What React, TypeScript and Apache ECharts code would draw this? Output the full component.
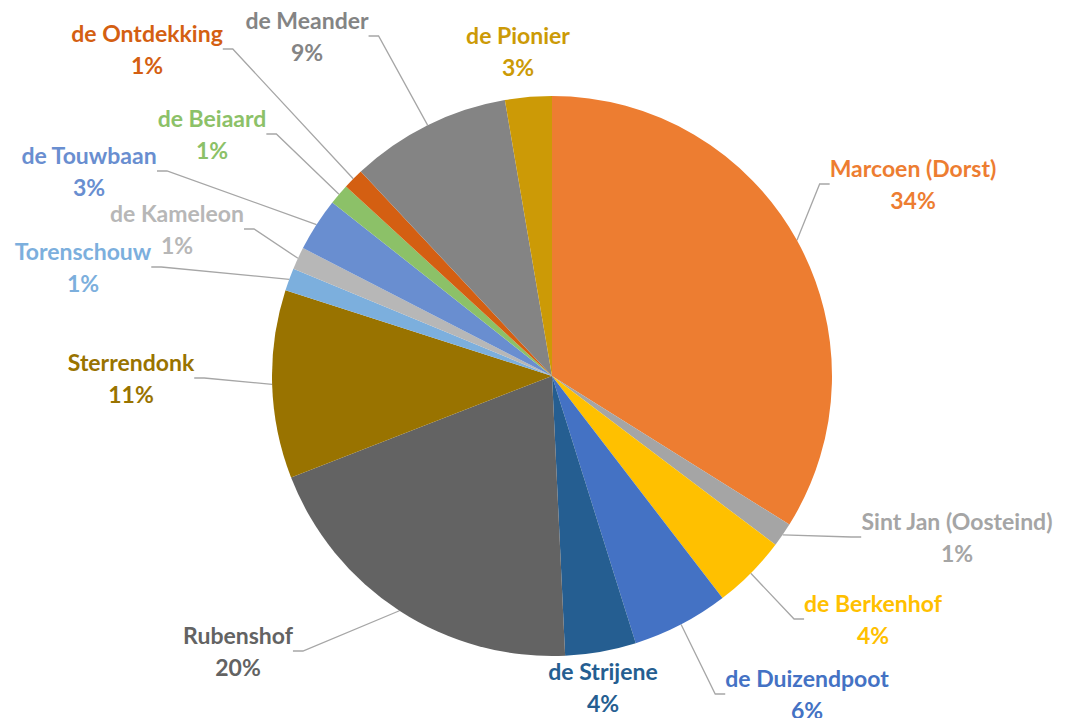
import React, { useEffect, useRef } from 'react';
import * as echarts from 'echarts';

const categories = [
  'Marcoen (Dorst)',
  'Sint Jan (Oosteind)',
  'de Berkenhof',
  'de Duizendpoot',
  'de Strijene',
  'Rubenshof',
  'Sterrendonk',
  'Torenschouw',
  'de Kameleon',
  'de Touwbaan',
  'de Beiaard',
  'de Ontdekking',
  'de Meander',
  'de Pionier',
];

const values = [34, 1.4, 4.3, 5.6, 4.1, 19.9, 10.9, 1.3, 1.3, 3.1, 1.2, 1.2, 9.3, 2.7];

const colors = [
  '#ED7D31',
  '#A5A5A5',
  '#FFC000',
  '#4472C4',
  '#255E91',
  '#636363',
  '#997300',
  '#7CAFDD',
  '#B7B7B7',
  '#698ED0',
  '#8CC168',
  '#D45F12',
  '#848484',
  '#CC9A06',
];

// label block centres (layout only)
const labelCenters: number[][] = [
  [913, 184],
  [957, 537],
  [873, 619],
  [807, 694],
  [603, 687],
  [238, 651],
  [131, 378],
  [83, 267],
  [177, 229],
  [89, 171],
  [212, 134],
  [147, 49],
  [307, 36],
  [518, 51],
];

const noLine = new Set([4, 13]);

export default function App() {
  const ref = useRef<HTMLDivElement>(null);
  useEffect(() => {
    if (!ref.current) return;
    const chart = echarts.init(ref.current, undefined, { renderer: 'svg' });
    const data = categories.map((name, i) => ({
      name,
      value: values[i],
      itemStyle: { color: colors[i] },
      label: {
        rich: {
          n: { color: colors[i], fontSize: 23, fontWeight: 'bold', fontFamily: 'Lato', lineHeight: 32 },
          p: { color: colors[i], fontSize: 23, fontWeight: 'bold', fontFamily: 'Lato', lineHeight: 32 },
        },
      },
      labelLine: { show: !noLine.has(i) },
    }));
    chart.setOption({
      animation: false,
      backgroundColor: '#ffffff',
      series: [
        {
          type: 'pie',
          center: [552, 376],
          radius: 280,
          startAngle: 90,
          clockwise: true,
          avoidLabelOverlap: false,
          data,
          label: {
            show: true,
            position: 'outer',
            alignTo: 'none',
            formatter: (p: any) => `{n|${p.name}}\n{p|${Math.round(p.percent)}%}`,
            textAlign: 'center',
          },
          labelLine: {
            show: true,
            length: 15,
            length2: 10,
            lineStyle: { color: '#A6A6A6', width: 1.3 },
          },
          labelLayout: (params: any) => {
            const c = labelCenters[params.dataIndex];
            return { x: c[0], y: c[1], align: 'center', verticalAlign: 'middle' };
          },
          itemStyle: { borderWidth: 0 },
          emphasis: { disabled: true },
        },
      ],
    });
    return () => chart.dispose();
  }, []);
  return (
    <div
      ref={ref}
      style={{ position: 'fixed', left: 0, top: 0, width: 1079, height: 718 }}
    />
  );
}
